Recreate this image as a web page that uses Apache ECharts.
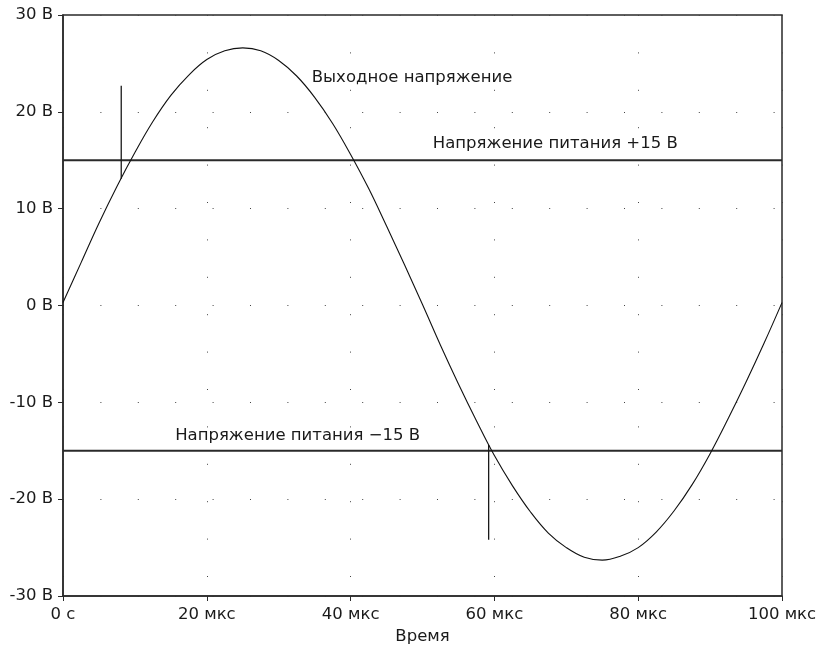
<!DOCTYPE html>
<html>
<head>
<meta charset="utf-8">
<script src="https://cdn.jsdelivr.net/npm/echarts@6/dist/echarts.min.js"></script>
<style>
  html, body { margin: 0; padding: 0; background: #fff; }
  #chart { width: 823px; height: 651px; }
</style>
</head>
<body>
<div id="chart"></div>
<script>
// Time samples, µs
const timeUs = [0, 2.5, 5, 7.5, 10, 12.5, 15, 17.5, 20, 22.5, 25, 27.5, 30, 32.5, 35, 37.5,
  40, 42.5, 45, 47.5, 50, 52.5, 55, 57.5, 60, 62.5, 65, 67.5, 70, 72.5, 75, 77.5,
  80, 82.5, 85, 87.5, 90, 92.5, 95, 97.5, 100];
// Output voltage, V
const outputV = [0.3, 4.4, 8.5, 12.3, 15.8, 19.0, 21.7, 23.8, 25.4, 26.3, 26.6, 26.3, 25.3, 23.7, 21.5, 18.8,
  15.6, 12.1, 8.2, 4.2, 0.1, -4.1, -8.1, -11.9, -15.5, -18.6, -21.3, -23.5, -25.0, -26.0, -26.3, -25.9,
  -25.0, -23.4, -21.2, -18.5, -15.3, -11.7, -7.9, -3.9, 0.3];
// Supply rails, V
const supplyPos = 15;
const supplyNeg = -15;
// Vertical markers: [time µs, from V, to V]
const markerA = [8.1, 13.1, 22.7];
const markerB = [59.2, -14.4, -24.2];
// Axis ticks and labels
const xTicks = [0, 20, 40, 60, 80, 100];
const xTickLabels = ['0 с', '20 мкс', '40 мкс', '60 мкс', '80 мкс', '100 мкс'];
const yTicks = [-30, -20, -10, 0, 10, 20, 30];
const yTickLabels = ['-30 В', '-20 В', '-10 В', '0 В', '10 В', '20 В', '30 В'];
// Annotation texts with their anchor points [time µs, V]
const noteOutput = { text: 'Выходное напряжение', at: [34.6, 23.5] };
const notePos = { text: 'Напряжение питания +15 В', at: [85.5, 16.7] };
const noteNeg = { text: 'Напряжение питания \u221215 В', at: [15.6, -13.4] };

const FONT = 'DejaVu Sans';
const FS = 16.5;
const INK = '#1a1a1a';

const chart = echarts.init(document.getElementById('chart'), null, { renderer: 'canvas' });

function pairs(xs, ys) { return xs.map((x, i) => [x, ys[i]]); }

function note(n, align) {
  return {
    type: 'scatter', symbolSize: 0, silent: true, z: 5,
    itemStyle: { opacity: 1 },
    data: [n.at],
    label: {
      show: true, position: 'inside', formatter: n.text, align: align, verticalAlign: 'middle',
      fontFamily: FONT, fontSize: FS, color: INK, opacity: 1
    }
  };
}

function segment(m) {
  return {
    type: 'line', data: [[m[0], m[1]], [m[0], m[2]]], showSymbol: false, silent: true,
    lineStyle: { color: '#1a1a1a', width: 1.3 }, z: 2
  };
}

function rail(v) {
  return {
    type: 'line', data: [[0, v], [100, v]], showSymbol: false, silent: true,
    lineStyle: { color: '#2a2a2a', width: 2 }, z: 2
  };
}

const dots = { color: '#444', width: 1, type: [1, 36.4], dashOffset: 0 };

chart.setOption({
  animation: false,
  backgroundColor: '#fff',
  grid: { left: 63, right: 41, top: 15, bottom: 55, show: true, borderColor: '#2a2a2a', borderWidth: 1.5 },
  xAxis: {
    type: 'value', min: 0, max: 100, interval: 20,
    name: 'Время', nameLocation: 'middle', nameGap: 27,
    nameTextStyle: { fontFamily: FONT, fontSize: FS, color: INK },
    axisLine: { show: true, onZero: false, lineStyle: { color: '#2a2a2a', width: 1.5 } },
    axisTick: { show: true, inside: false, length: 5, lineStyle: { color: '#2a2a2a', width: 1 } },
    axisLabel: {
      margin: 10, fontFamily: FONT, fontSize: FS, color: INK,
      formatter: v => xTickLabels[xTicks.indexOf(v)]
    },
    splitLine: { show: true, lineStyle: dots }
  },
  yAxis: {
    type: 'value', min: -30, max: 30, interval: 10,
    axisLine: { show: true, onZero: false, lineStyle: { color: '#2a2a2a', width: 1.5 } },
    axisTick: { show: true, inside: false, length: 5, lineStyle: { color: '#2a2a2a', width: 1 } },
    axisLabel: {
      margin: 10, fontFamily: FONT, fontSize: FS, color: INK,
      formatter: v => yTickLabels[yTicks.indexOf(v)]
    },
    splitLine: { show: true, lineStyle: dots }
  },
  series: [
    {
      type: 'line', name: 'out', data: pairs(timeUs, outputV), smooth: 0.4, showSymbol: false, silent: true,
      lineStyle: { color: '#111', width: 1.1 }, z: 3
    },
    rail(supplyPos),
    rail(supplyNeg),
    segment(markerA),
    segment(markerB),
    note(noteOutput, 'left'),
    note(notePos, 'right'),
    note(noteNeg, 'left')
  ]
});
</script>
</body>
</html>
